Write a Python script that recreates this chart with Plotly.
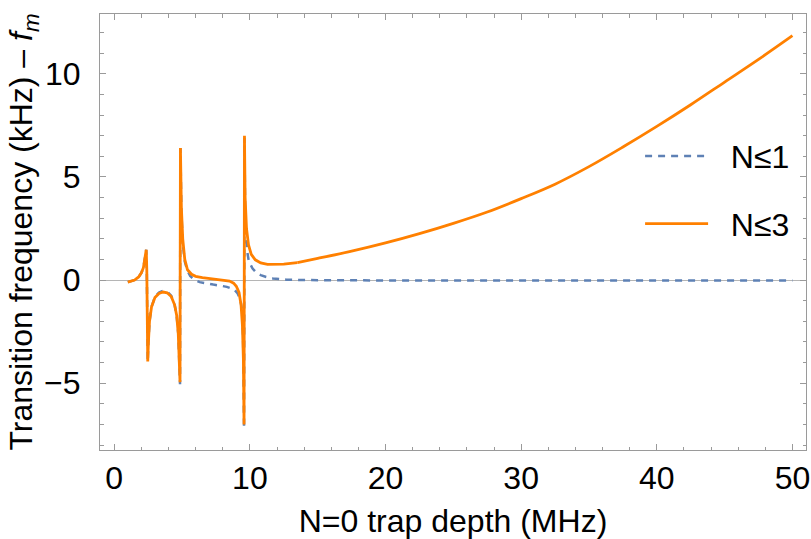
import plotly.graph_objects as go

# N<=3 (solid orange)
x_n3 = [1.0, 1.5, 1.8, 2.0, 2.15, 2.25, 2.32, 2.36, 2.40, 2.44, 2.47, 2.52, 2.6, 2.75, 3.0, 3.3, 3.6,
        3.9, 4.2, 4.45, 4.6, 4.72, 4.8, 4.85, 4.86, 4.88, 4.95, 5.05, 5.2, 5.4, 5.7, 6.0, 6.5, 7.0, 7.5,
        8.0, 8.5, 8.8, 9.0, 9.2, 9.35, 9.45, 9.52, 9.57, 9.58, 9.60, 9.65, 9.75, 9.9, 10.1, 10.4, 10.8,
        11.3, 11.8, 12.5, 13.5, 15, 17.5, 20, 22.5, 25, 27.5, 30, 32.5, 35, 37.5, 40, 42.5, 45, 47.5, 50]
y_n3 = [-0.1, 0.0, 0.15, 0.35, 0.6, 0.95, 1.3, 1.47, 0.5, -2.0, -3.95, -3.0, -2.0, -1.3, -0.85, -0.65, -0.58,
        -0.62, -0.8, -1.2, -1.7, -2.6, -3.8, -4.95, 0.0, 6.4, 3.5, 2.0, 1.0, 0.5, 0.28, 0.18, 0.12, 0.08, 0.05,
        0.02, -0.05, -0.15, -0.3, -0.6, -1.2, -2.2, -3.8, -7.0, 0.0, 7.0, 4.0, 2.5, 1.7, 1.25, 0.98, 0.83,
        0.76, 0.75, 0.77, 0.85, 1.05, 1.4, 1.8, 2.25, 2.75, 3.3, 3.95, 4.65, 5.5, 6.45, 7.45, 8.5, 9.6, 10.7, 11.85]

# N<=1 (dashed blue)
x_n1 = [1.0, 1.5, 1.8, 2.0, 2.15, 2.25, 2.32, 2.36, 2.40, 2.44, 2.47, 2.52, 2.6, 2.75, 3.0, 3.3, 3.6, 3.9,
        4.2, 4.45, 4.6, 4.72, 4.8, 4.85, 4.86, 4.88, 4.95, 5.05, 5.2, 5.4, 5.6, 5.9, 6.3, 6.8, 7.3, 7.8, 8.3,
        8.7, 8.9, 9.1, 9.3, 9.42, 9.5, 9.57, 9.58, 9.60, 9.65, 9.72, 9.8, 9.9, 10.0, 10.2, 10.5, 10.8, 11.2,
        11.7, 12.2, 12.7, 13.5, 15, 20, 25, 30, 35, 40, 45, 50]
y_n1 = [-0.1, 0.0, 0.15, 0.35, 0.6, 0.95, 1.3, 1.47, 0.5, -2.0, -3.95, -3.0, -2.0, -1.3, -0.82, -0.6, -0.52, -0.56,
        -0.76, -1.2, -1.7, -2.6, -3.8, -5.05, 0.0, 6.4, 3.3, 1.8, 0.9, 0.45, 0.2, 0.02, -0.1, -0.17, -0.22, -0.27, -0.33,
        -0.42, -0.5, -0.65, -0.95, -1.5, -2.8, -7.2, 0.0, 6.9, 3.2, 2.0, 1.4, 1.0, 0.8, 0.56, 0.34, 0.24, 0.15,
        0.08, 0.04, 0.02, 0.0, -0.01, -0.02, -0.02, -0.02, -0.02, -0.02, -0.02, -0.02]

x_ticks = [0, 10, 20, 30, 40, 50]
y_ticks = [-5, 0, 5, 10]

BLUE = "#5E81B5"
ORANGE = "#FF8000"
FRAME = "#9a9a9a"
FONT = "Liberation Sans, Arial, sans-serif"
FS = 32

# split the smooth tail of N<=3 so it can be drawn as a spline
split = x_n3.index(13.5)

fig = go.Figure()
fig.add_trace(go.Scatter(x=x_n1, y=y_n1, mode="lines", name="\u00a0\u00a0N≤1", legendgroup="a",
                         line=dict(color=BLUE, width=2.5, dash="7px,6px")))
fig.add_trace(go.Scatter(x=x_n3[:split + 1], y=y_n3[:split + 1], mode="lines", name="\u00a0\u00a0N≤3",
                         legendgroup="b", line=dict(color=ORANGE, width=2.8)))
fig.add_trace(go.Scatter(x=x_n3[split:], y=y_n3[split:], mode="lines", name="\u00a0\u00a0N≤3",
                         legendgroup="b", showlegend=False,
                         line=dict(color=ORANGE, width=2.8, shape="spline", smoothing=1.0)))

axis_common = dict(showline=True, linecolor=FRAME, linewidth=1, mirror="ticks",
                   ticks="inside", ticklen=6, tickcolor=FRAME, tickwidth=1, automargin=False,
                   showgrid=False, tickfont=dict(size=FS, color="black", family=FONT))

fig.update_xaxes(range=[-1.05, 51.0], tickvals=x_ticks, zeroline=False,
                 minor=dict(ticks="inside", dtick=2, ticklen=3.5, tickcolor=FRAME, showgrid=False),
                 title=dict(text="N=0 trap depth (MHz)", standoff=14,
                            font=dict(size=FS, color="black", family=FONT)),
                 **axis_common)
fig.update_yaxes(range=[-8.24, 12.9], tickvals=y_ticks, zeroline=True, zerolinecolor="#b5b5b5",
                 zerolinewidth=1, ticklabelstandoff=12,
                 minor=dict(ticks="inside", dtick=1, ticklen=3.5, tickcolor=FRAME, showgrid=False),
                 title=dict(text="Transition frequency (kHz) \u2013 <i>f</i><sub><i>m</i></sub>",
                            standoff=0, font=dict(size=FS, color="black", family=FONT)),
                 **axis_common)

fig.update_layout(
    width=811, height=539,
    margin=dict(l=100, r=5, t=14, b=89),
    plot_bgcolor="white", paper_bgcolor="white",
    font=dict(family=FONT, color="black"),
    showlegend=True,
    legend=dict(x=0.765, y=0.737, xanchor="left", yanchor="top", bgcolor="rgba(0,0,0,0)",
                font=dict(size=FS, family=FONT, color="black"), tracegroupgap=23,
                itemwidth=63),
)

fig.write_html("out.html", config={"displayModeBar": False},
               post_script="document.body.style.margin='0';document.body.style.overflow='hidden';")
